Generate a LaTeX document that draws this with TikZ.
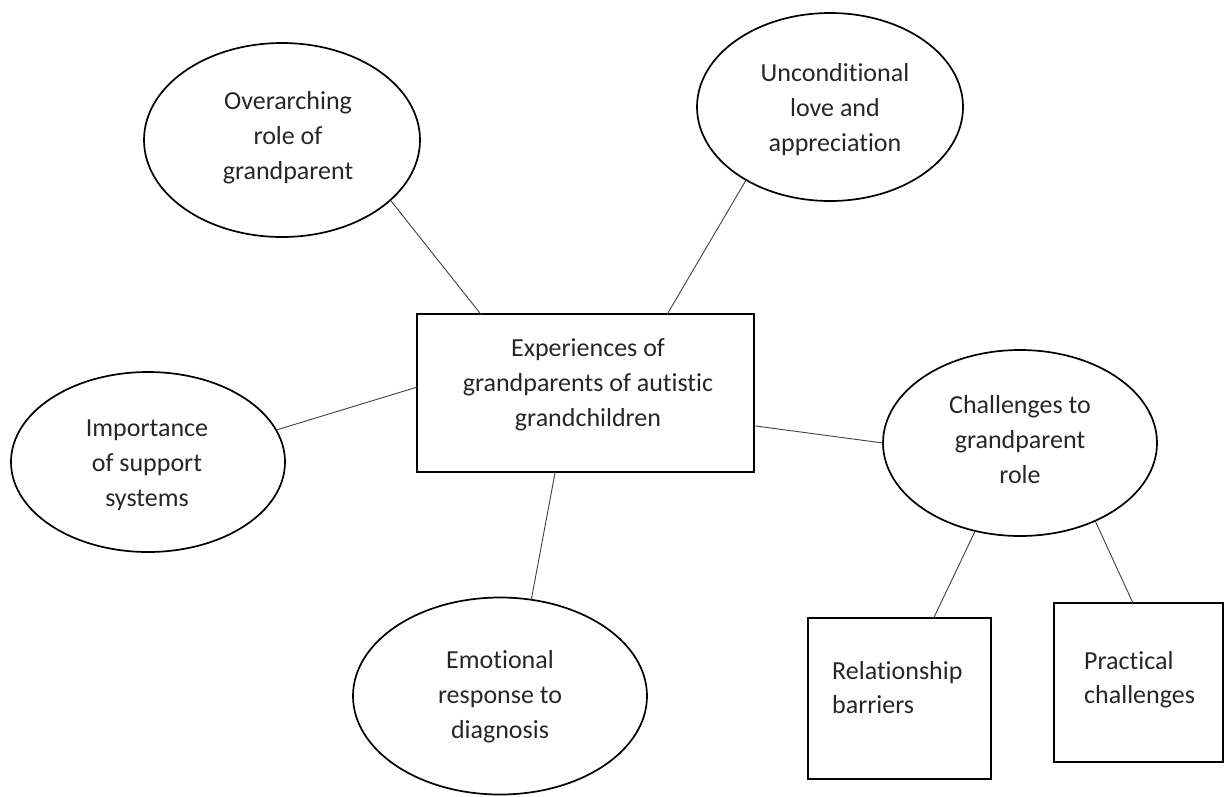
\documentclass[tikz,border=0pt]{standalone}
\usepackage{fontspec}
\setmainfont{Carlito}[Ligatures=NoCommon]
\usetikzlibrary{shapes.geometric}
\begin{document}
\begin{tikzpicture}[x=1pt,y=-1pt,
  oval/.style={ellipse,draw=black,line width=1.7pt,inner sep=0pt,outer sep=0pt},
  boxnode/.style={rectangle,draw=black,line width=1.7pt,inner sep=0pt,outer sep=0pt},
  lbl/.style={align=center,text=black!85,font=\fontsize{26}{35}\selectfont,inner sep=0pt},
  lbll/.style={align=left,anchor=west,text=black!85,font=\fontsize{26}{34}\selectfont,inner sep=0pt},
  link/.style={line width=0.9pt,draw=black!75}]
\useasboundingbox (0,0) rectangle (1225,796);
% shapes
\node[oval,minimum width=276pt,minimum height=194pt] (ov) at (282,140) {};
\node[oval,minimum width=266pt,minimum height=188pt] (un) at (830,107) {};
\node[oval,minimum width=274pt,minimum height=180pt] (im) at (148,462) {};
\node[oval,minimum width=294pt,minimum height=197pt] (em) at (500,696) {};
\node[oval,minimum width=274pt,minimum height=186pt] (ch) at (1020,443) {};
\node[boxnode,minimum width=337pt,minimum height=158pt] (ex) at (585.5,393) {};
\node[boxnode,minimum width=183pt,minimum height=161pt] (rb) at (899.5,698.5) {};
\node[boxnode,minimum width=169pt,minimum height=159pt] (pc) at (1138.5,682.5) {};
% texts
\node[lbl] (ovt) at (288,138) {Overarching\\role of\\grandparent};
\node[lbl] (unt) at (835,110) {Unconditional\\love and\\appreciation};
\node[lbl] (imt) at (147,465) {Importance\\of support\\systems};
\node[lbl] (emt) at (500,697) {Emotional\\response to\\diagnosis};
\node[lbl] (cht) at (1020,440) {Challenges to\\grandparent\\role};
\node[lbl] (ext) at (588,385) {Experiences of\\grandparents of autistic\\grandchildren};
\node[lbll] (rbt) at (832,688) {Relationship\\barriers};
\node[lbll] (pct) at (1084,680) {Practical\\challenges};
% connectors
\draw[link] (ov.-29) -- (ex.143);
\draw[link] (un.-139) -- (ex.44.5);
\draw[link] (im.14) -- (ex.178.6);
\draw[link] (ex.-111.9) -- (em.72.4);
\draw[link] (ex.-11.7) -- (ch.180);
\draw[link] (ch.-117) -- (rb.67);
\draw[link] (ch.-46.5) -- (pc.94.3);
\end{tikzpicture}
\end{document}
